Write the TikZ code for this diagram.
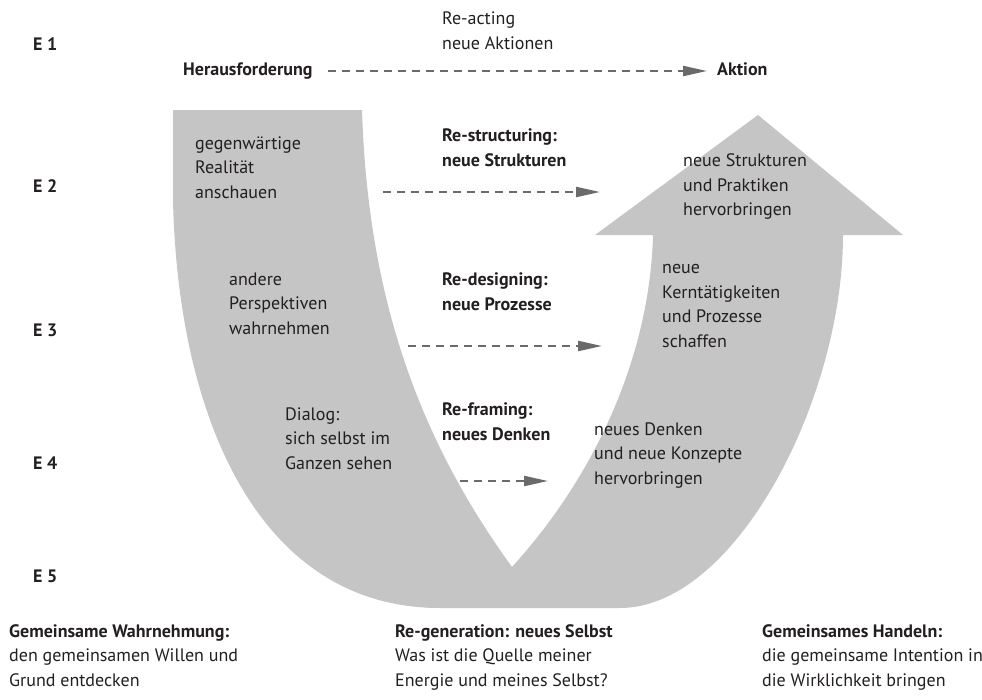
\documentclass[tikz,border=0pt]{standalone}
\usepackage{fontspec}
\setmainfont{PT Sans}
\usetikzlibrary{arrows.meta}
\definecolor{ugray}{RGB}{197,197,197}
\definecolor{agray}{RGB}{106,106,106}
\definecolor{ink}{RGB}{35,31,32}
\begin{document}
\begin{tikzpicture}[x=1pt,y=-1pt,
  txt/.style={anchor=north west, align=left, inner sep=0pt, text=ink,
    font=\fontsize{18}{24.5}\selectfont, execute at begin node=\strut},
  btxt/.style={txt, font=\fontsize{18}{24.5}\selectfont\bfseries},
  lbl/.style={anchor=west, inner sep=0pt, text=ink,
    font=\fontsize{18}{24.5}\selectfont\bfseries, execute at begin node=\strut},
  dasharr/.style={draw=agray, line width=2.2pt, dash pattern=on 8pt off 6pt,
    -{Triangle[length=24pt,width=10pt,fill=agray]}}
]
\useasboundingbox (0,0) rectangle (982,699);

% U-shaped arrow
\fill[ugray] (173,110) -- (362,110)
  .. controls (368,300) and (420,440) .. (512,567)
  .. controls (600,470) and (650,350) .. (653,235)
  -- (595,235) -- (758,115) -- (903,235) -- (843,235)
  .. controls (843,400) and (735,608) .. (620,608)
  -- (440,608)
  .. controls (260,608) and (178,420) .. (173,200)
  -- cycle;

% level labels
\node[lbl] (e1) at (33,46) {E 1};
\node[lbl] (e2) at (33,188) {E 2};
\node[lbl] (e3) at (33,332) {E 3};
\node[lbl] (e4) at (33,465) {E 4};
\node[lbl] (e5) at (33,578) {E 5};

% top row
\node[lbl] (her) at (183,71) {Herausforderung};
\node[lbl] (akt) at (717,71) {Aktion};
\node[txt] (react) at (442,12) {Re-acting\\neue Aktionen};
\draw[dasharr, shorten <=15pt, shorten >=10pt] (her.east) -- (akt.west);

% left arm texts
\node[txt] (l1) at (195,136.5) {gegenwärtige\\Realität\\anschauen};
\node[txt] (l2) at (229,272.5) {andere\\Perspektiven\\wahrnehmen};
\node[txt] (l3) at (285,407.5) {Dialog:\\sich selbst im\\Ganzen sehen};

% middle texts
\node[btxt] (m1) at (442,128.5) {Re-structuring:\\neue Strukturen};
\node[btxt] (m2) at (442,272.5) {Re-designing:\\neue Prozesse};
\node[btxt] (m3) at (442,402.5) {Re-framing:\\neues Denken};

\coordinate (a1s) at (383,192); \coordinate (a1e) at (600,192);
\coordinate (a2s) at (408,346); \coordinate (a2e) at (602,346);
\coordinate (a3s) at (460,481); \coordinate (a3e) at (548,481);
\draw[dasharr] (a1s) -- (a1e);
\draw[dasharr] (a2s) -- (a2e);
\draw[dasharr] (a3s) -- (a3e);

% right arm texts
\node[txt] (r1) at (683,153.5) {neue Strukturen\\und Praktiken\\hervorbringen};
\node[txt] (r2) at (662,264.5) {neue\\Kerntätigkeiten\\und Prozesse\\schaffen};
\node[txt] (r3) at (594,422.5) {neues Denken\\und neue Konzepte\\hervorbringen};

% bottom texts
\node[txt] (b1) at (9,624) {\textbf{Gemeinsame Wahrnehmung:}\\den gemeinsamen Willen und\\Grund entdecken};
\node[txt] (b2) at (395,624) {\textbf{Re-generation: neues Selbst}\\Was ist die Quelle meiner\\Energie und meines Selbst?};
\node[txt] (b3) at (762,624) {\textbf{Gemeinsames Handeln:}\\die gemeinsame Intention in\\die Wirklichkeit bringen};
\end{tikzpicture}
\end{document}
